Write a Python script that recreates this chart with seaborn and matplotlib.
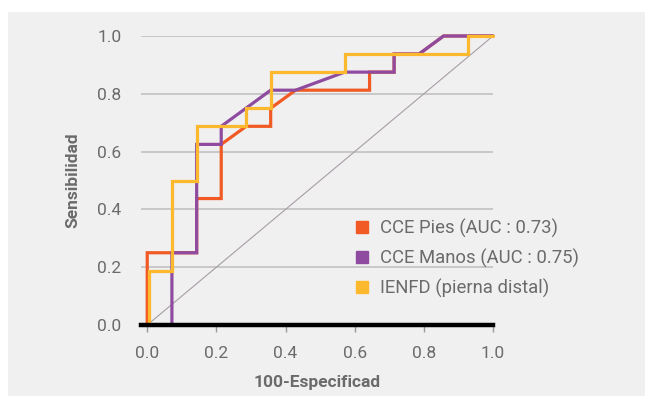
import matplotlib
matplotlib.use("Agg")
import matplotlib.pyplot as plt
import seaborn as sns
import pandas as pd
from matplotlib.lines import Line2D

# ROC step data
pies_x = [0, 0, 0.143, 0.143, 0.214, 0.214, 0.286, 0.357, 0.357, 0.429, 0.643, 0.643, 0.714, 0.714, 0.786, 0.857, 1.0]
pies_y = [0, 0.25, 0.25, 0.4375, 0.4375, 0.625, 0.6875, 0.6875, 0.75, 0.8125, 0.8125, 0.875, 0.875, 0.9375, 0.9375, 1.0, 1.0]

manos_x = [0, 0.0714, 0.0714, 0.143, 0.143, 0.214, 0.214, 0.357, 0.429, 0.571, 0.714, 0.714, 0.786, 0.857, 1.0]
manos_y = [0, 0, 0.25, 0.25, 0.625, 0.625, 0.6875, 0.8125, 0.8125, 0.875, 0.875, 0.9375, 0.9375, 1.0, 1.0]

ienfd_x = [0.004, 0.004, 0.0714, 0.0714, 0.143, 0.143, 0.286, 0.286, 0.357, 0.357, 0.571, 0.571, 0.929, 0.929, 1.0]
ienfd_y = [0, 0.1875, 0.1875, 0.5, 0.5, 0.6875, 0.6875, 0.75, 0.75, 0.875, 0.875, 0.9375, 0.9375, 1.0, 1.0]

ref_x = [0, 1]
ref_y = [0, 1]

labels = ["CCE Pies (AUC : 0.73)", "CCE Manos (AUC : 0.75)", "IENFD (pierna distal)"]
colors = ["#F15A24", "#8E4B9F", "#FDB92E"]
xticks = [0.0, 0.2, 0.4, 0.6, 0.8, 1.0]
yticks = [0.0, 0.2, 0.4, 0.6, 0.8, 1.0]

df = pd.concat([
    pd.DataFrame({"x": pies_x, "y": pies_y, "serie": labels[0]}),
    pd.DataFrame({"x": manos_x, "y": manos_y, "serie": labels[1]}),
    pd.DataFrame({"x": ienfd_x, "y": ienfd_y, "serie": labels[2]}),
], ignore_index=True)

sns.set_theme(style="white")
plt.rcParams["font.family"] = ["Roboto", "DejaVu Sans"]

fig = plt.figure(figsize=(6.45, 3.96), dpi=100)
fig.patch.set_facecolor("white")
bg = plt.Rectangle((8 / 645, 0), 637 / 645, 384 / 396, transform=fig.transFigure,
                   facecolor="#F0F0F0", edgecolor="none", zorder=-10)
fig.add_artist(bg)

ax = fig.add_axes([141 / 645, 1 - 325 / 396, (493 - 141) / 645, (325 - 36) / 396])
ax.set_zorder(1)
ax.set_facecolor("none")

ax.plot(ref_x, ref_y, color="#A89DA6", lw=0.8, zorder=2)
sns.lineplot(data=df, x="x", y="y", hue="serie", palette=colors, sort=False, estimator=None,
             lw=2.3, legend=False, ax=ax, zorder=3)
for ln in ax.lines:
    ln.set_clip_on(False)
    ln.set_solid_joinstyle("miter")

ax.set_xlim(-0.018, 1.0)
ax.set_ylim(0, 1.0)
ax.set_xticks(xticks)
ax.set_yticks(yticks)
ax.set_xticklabels([f"{v:.1f}" for v in xticks])
ax.set_yticklabels([f"{v:.1f}" for v in yticks])
ax.yaxis.grid(True, color="#C8C8C8", lw=1.4)
ax.set_axisbelow(True)
for s in ["top", "right", "left"]:
    ax.spines[s].set_visible(False)
ax.spines["bottom"].set_color("black")
ax.spines["bottom"].set_linewidth(3.2)
ax.spines["bottom"].set_zorder(4)
ax.tick_params(axis="x", length=5, width=1, color="#999999", labelsize=12.5, labelcolor="#6B6B6B", pad=10, direction="out")
ax.tick_params(axis="y", length=0, labelsize=12.5, labelcolor="#6B6B6B", pad=14)
ax.xaxis.set_ticks_position("bottom")

ax.set_xlabel("100-Especificad", fontsize=12.5, fontweight="bold", color="#6B6B6B", labelpad=10)
ax.set_ylabel("Sensibilidad", fontsize=12.5, fontweight="bold", color="#6B6B6B", labelpad=12)

handles = [Line2D([], [], marker="s", linestyle="none", markersize=8, markerfacecolor=c,
                  markeredgecolor=c) for c in colors]
leg = fig.legend(handles, labels, loc="upper left", bbox_to_anchor=(347 / 645, 1 - 211 / 396),
                 frameon=False, fontsize=13.3, labelcolor="#6B6B6B", handlelength=0.8,
                 handletextpad=0.6, labelspacing=0.6, borderaxespad=0)

fig.savefig("out.png", dpi=100, facecolor="white")
